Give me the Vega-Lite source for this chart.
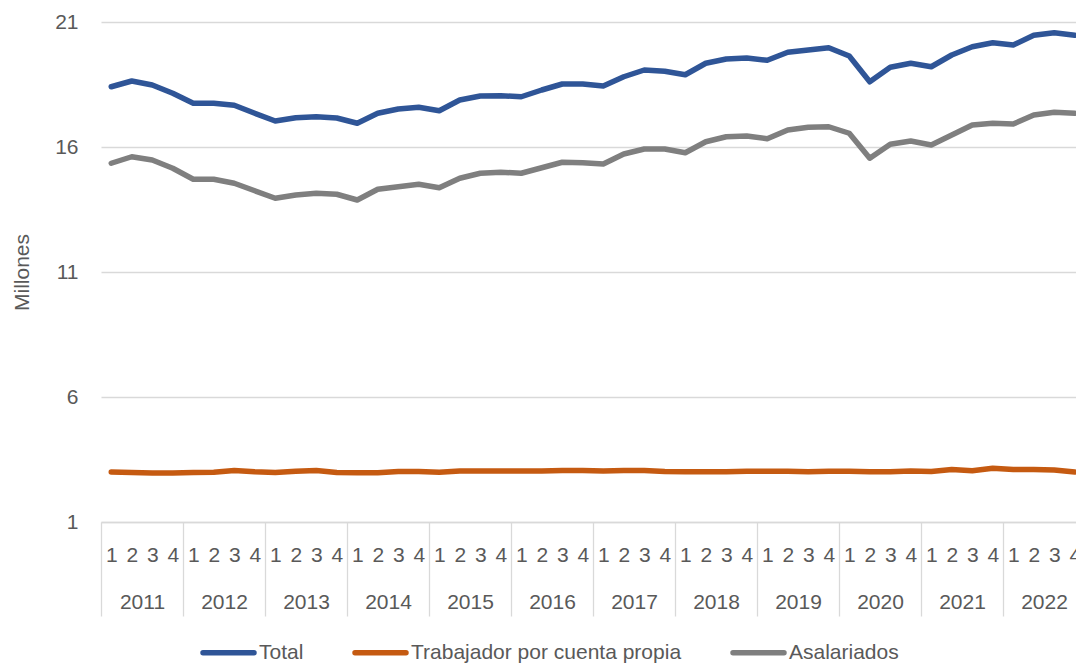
{
  "$schema": "https://vega.github.io/schema/vega-lite/v6.json",
  "autosize": "none",
  "width": 975,
  "height": 500,
  "padding": {"left": 101, "top": 22, "right": 0, "bottom": 143},
  "config": {
    "view": {"stroke": null},
    "font": "Liberation Sans"
  },
  "data": {"values": [
    {"s":"Total","y":2011,"q":1,"v":18.41},{"s":"Total","y":2011,"q":2,"v":18.64},{"s":"Total","y":2011,"q":3,"v":18.48},{"s":"Total","y":2011,"q":4,"v":18.15},
    {"s":"Total","y":2012,"q":1,"v":17.75},{"s":"Total","y":2012,"q":2,"v":17.75},{"s":"Total","y":2012,"q":3,"v":17.67},{"s":"Total","y":2012,"q":4,"v":17.35},
    {"s":"Total","y":2013,"q":1,"v":17.04},{"s":"Total","y":2013,"q":2,"v":17.17},{"s":"Total","y":2013,"q":3,"v":17.21},{"s":"Total","y":2013,"q":4,"v":17.16},
    {"s":"Total","y":2014,"q":1,"v":16.95},{"s":"Total","y":2014,"q":2,"v":17.35},{"s":"Total","y":2014,"q":3,"v":17.52},{"s":"Total","y":2014,"q":4,"v":17.59},
    {"s":"Total","y":2015,"q":1,"v":17.45},{"s":"Total","y":2015,"q":2,"v":17.88},{"s":"Total","y":2015,"q":3,"v":18.04},{"s":"Total","y":2015,"q":4,"v":18.05},
    {"s":"Total","y":2016,"q":1,"v":18.01},{"s":"Total","y":2016,"q":2,"v":18.28},{"s":"Total","y":2016,"q":3,"v":18.52},{"s":"Total","y":2016,"q":4,"v":18.52},
    {"s":"Total","y":2017,"q":1,"v":18.44},{"s":"Total","y":2017,"q":2,"v":18.81},{"s":"Total","y":2017,"q":3,"v":19.08},{"s":"Total","y":2017,"q":4,"v":19.03},
    {"s":"Total","y":2018,"q":1,"v":18.89},{"s":"Total","y":2018,"q":2,"v":19.35},{"s":"Total","y":2018,"q":3,"v":19.52},{"s":"Total","y":2018,"q":4,"v":19.56},
    {"s":"Total","y":2019,"q":1,"v":19.47},{"s":"Total","y":2019,"q":2,"v":19.79},{"s":"Total","y":2019,"q":3,"v":19.88},{"s":"Total","y":2019,"q":4,"v":19.97},
    {"s":"Total","y":2020,"q":1,"v":19.64},{"s":"Total","y":2020,"q":2,"v":18.61},{"s":"Total","y":2020,"q":3,"v":19.19},{"s":"Total","y":2020,"q":4,"v":19.35},
    {"s":"Total","y":2021,"q":1,"v":19.21},{"s":"Total","y":2021,"q":2,"v":19.68},{"s":"Total","y":2021,"q":3,"v":20.01},{"s":"Total","y":2021,"q":4,"v":20.17},
    {"s":"Total","y":2022,"q":1,"v":20.08},{"s":"Total","y":2022,"q":2,"v":20.47},{"s":"Total","y":2022,"q":3,"v":20.57},{"s":"Total","y":2022,"q":4,"v":20.47},
    {"s":"Trabajador por cuenta propia","y":2011,"q":1,"v":3.00},{"s":"Trabajador por cuenta propia","y":2011,"q":2,"v":2.98},{"s":"Trabajador por cuenta propia","y":2011,"q":3,"v":2.96},{"s":"Trabajador por cuenta propia","y":2011,"q":4,"v":2.96},
    {"s":"Trabajador por cuenta propia","y":2012,"q":1,"v":2.98},{"s":"Trabajador por cuenta propia","y":2012,"q":2,"v":2.99},{"s":"Trabajador por cuenta propia","y":2012,"q":3,"v":3.06},{"s":"Trabajador por cuenta propia","y":2012,"q":4,"v":3.01},
    {"s":"Trabajador por cuenta propia","y":2013,"q":1,"v":2.98},{"s":"Trabajador por cuenta propia","y":2013,"q":2,"v":3.03},{"s":"Trabajador por cuenta propia","y":2013,"q":3,"v":3.06},{"s":"Trabajador por cuenta propia","y":2013,"q":4,"v":2.98},
    {"s":"Trabajador por cuenta propia","y":2014,"q":1,"v":2.97},{"s":"Trabajador por cuenta propia","y":2014,"q":2,"v":2.97},{"s":"Trabajador por cuenta propia","y":2014,"q":3,"v":3.02},{"s":"Trabajador por cuenta propia","y":2014,"q":4,"v":3.02},
    {"s":"Trabajador por cuenta propia","y":2015,"q":1,"v":2.99},{"s":"Trabajador por cuenta propia","y":2015,"q":2,"v":3.04},{"s":"Trabajador por cuenta propia","y":2015,"q":3,"v":3.04},{"s":"Trabajador por cuenta propia","y":2015,"q":4,"v":3.04},
    {"s":"Trabajador por cuenta propia","y":2016,"q":1,"v":3.04},{"s":"Trabajador por cuenta propia","y":2016,"q":2,"v":3.04},{"s":"Trabajador por cuenta propia","y":2016,"q":3,"v":3.06},{"s":"Trabajador por cuenta propia","y":2016,"q":4,"v":3.06},
    {"s":"Trabajador por cuenta propia","y":2017,"q":1,"v":3.04},{"s":"Trabajador por cuenta propia","y":2017,"q":2,"v":3.06},{"s":"Trabajador por cuenta propia","y":2017,"q":3,"v":3.06},{"s":"Trabajador por cuenta propia","y":2017,"q":4,"v":3.02},
    {"s":"Trabajador por cuenta propia","y":2018,"q":1,"v":3.01},{"s":"Trabajador por cuenta propia","y":2018,"q":2,"v":3.01},{"s":"Trabajador por cuenta propia","y":2018,"q":3,"v":3.01},{"s":"Trabajador por cuenta propia","y":2018,"q":4,"v":3.03},
    {"s":"Trabajador por cuenta propia","y":2019,"q":1,"v":3.03},{"s":"Trabajador por cuenta propia","y":2019,"q":2,"v":3.03},{"s":"Trabajador por cuenta propia","y":2019,"q":3,"v":3.01},{"s":"Trabajador por cuenta propia","y":2019,"q":4,"v":3.03},
    {"s":"Trabajador por cuenta propia","y":2020,"q":1,"v":3.03},{"s":"Trabajador por cuenta propia","y":2020,"q":2,"v":3.01},{"s":"Trabajador por cuenta propia","y":2020,"q":3,"v":3.01},{"s":"Trabajador por cuenta propia","y":2020,"q":4,"v":3.04},
    {"s":"Trabajador por cuenta propia","y":2021,"q":1,"v":3.02},{"s":"Trabajador por cuenta propia","y":2021,"q":2,"v":3.10},{"s":"Trabajador por cuenta propia","y":2021,"q":3,"v":3.05},{"s":"Trabajador por cuenta propia","y":2021,"q":4,"v":3.15},
    {"s":"Trabajador por cuenta propia","y":2022,"q":1,"v":3.10},{"s":"Trabajador por cuenta propia","y":2022,"q":2,"v":3.10},{"s":"Trabajador por cuenta propia","y":2022,"q":3,"v":3.08},{"s":"Trabajador por cuenta propia","y":2022,"q":4,"v":3.00},
    {"s":"Asalariados","y":2011,"q":1,"v":15.35},{"s":"Asalariados","y":2011,"q":2,"v":15.61},{"s":"Asalariados","y":2011,"q":3,"v":15.48},{"s":"Asalariados","y":2011,"q":4,"v":15.15},
    {"s":"Asalariados","y":2012,"q":1,"v":14.71},{"s":"Asalariados","y":2012,"q":2,"v":14.71},{"s":"Asalariados","y":2012,"q":3,"v":14.55},{"s":"Asalariados","y":2012,"q":4,"v":14.25},
    {"s":"Asalariados","y":2013,"q":1,"v":13.95},{"s":"Asalariados","y":2013,"q":2,"v":14.08},{"s":"Asalariados","y":2013,"q":3,"v":14.15},{"s":"Asalariados","y":2013,"q":4,"v":14.11},
    {"s":"Asalariados","y":2014,"q":1,"v":13.88},{"s":"Asalariados","y":2014,"q":2,"v":14.31},{"s":"Asalariados","y":2014,"q":3,"v":14.41},{"s":"Asalariados","y":2014,"q":4,"v":14.51},
    {"s":"Asalariados","y":2015,"q":1,"v":14.37},{"s":"Asalariados","y":2015,"q":2,"v":14.75},{"s":"Asalariados","y":2015,"q":3,"v":14.95},{"s":"Asalariados","y":2015,"q":4,"v":14.99},
    {"s":"Asalariados","y":2016,"q":1,"v":14.95},{"s":"Asalariados","y":2016,"q":2,"v":15.17},{"s":"Asalariados","y":2016,"q":3,"v":15.39},{"s":"Asalariados","y":2016,"q":4,"v":15.37},
    {"s":"Asalariados","y":2017,"q":1,"v":15.32},{"s":"Asalariados","y":2017,"q":2,"v":15.72},{"s":"Asalariados","y":2017,"q":3,"v":15.92},{"s":"Asalariados","y":2017,"q":4,"v":15.92},
    {"s":"Asalariados","y":2018,"q":1,"v":15.77},{"s":"Asalariados","y":2018,"q":2,"v":16.21},{"s":"Asalariados","y":2018,"q":3,"v":16.41},{"s":"Asalariados","y":2018,"q":4,"v":16.44},
    {"s":"Asalariados","y":2019,"q":1,"v":16.33},{"s":"Asalariados","y":2019,"q":2,"v":16.68},{"s":"Asalariados","y":2019,"q":3,"v":16.79},{"s":"Asalariados","y":2019,"q":4,"v":16.81},
    {"s":"Asalariados","y":2020,"q":1,"v":16.55},{"s":"Asalariados","y":2020,"q":2,"v":15.55},{"s":"Asalariados","y":2020,"q":3,"v":16.11},{"s":"Asalariados","y":2020,"q":4,"v":16.24},
    {"s":"Asalariados","y":2021,"q":1,"v":16.08},{"s":"Asalariados","y":2021,"q":2,"v":16.48},{"s":"Asalariados","y":2021,"q":3,"v":16.88},{"s":"Asalariados","y":2021,"q":4,"v":16.95},
    {"s":"Asalariados","y":2022,"q":1,"v":16.92},{"s":"Asalariados","y":2022,"q":2,"v":17.28},{"s":"Asalariados","y":2022,"q":3,"v":17.39},{"s":"Asalariados","y":2022,"q":4,"v":17.35}
  ]},
  "transform": [{"calculate": "datum.y + '-' + datum.q", "as": "t"}],
  "encoding": {
    "y": {
      "field": "v", "type": "quantitative",
      "scale": {"domain": [1, 21], "nice": false, "zero": false},
      "axis": {"values": [1, 6, 11, 16, 21], "title": "Millones", "domain": false, "ticks": false, "labelPadding": 23, "titlePadding": 22, "gridColor": "#d9d9d9", "gridWidth": 1.3,
        "labelFont": "Liberation Sans", "labelFontSize": 21, "labelColor": "#595959", "titleFont": "Liberation Sans", "titleFontSize": 21, "titleColor": "#595959", "titleFontWeight": "normal"}
    }
  },
  "layer": [
    {
      "mark": {"type": "line", "strokeWidth": 5.5, "strokeCap": "round", "strokeJoin": "round"},
      "encoding": {
        "x": {
          "field": "t", "type": "ordinal",
          "scale": {"type": "point", "padding": 0.5, "range": [0, 984]},
          "axis": {"orient": "bottom", "title": null, "labelExpr": "split(datum.label, '-')[1]", "labelAngle": 0, "ticks": false, "grid": false, "domain": true, "domainColor": "#d9d9d9", "domainWidth": 1.3, "labelBaseline": "middle", "labelPadding": 33,
            "labelFont": "Liberation Sans", "labelFontSize": 21, "labelColor": "#595959"}
        },
        "color": {
          "field": "s", "type": "nominal",
          "scale": {"domain": ["Total", "Trabajador por cuenta propia", "Asalariados"], "range": ["#2F5597", "#C55A11", "#7F7F7F"]},
          "legend": {
            "title": null, "orient": "none", "direction": "horizontal", "legendX": 99, "legendY": 602,
            "symbolType": "stroke", "symbolSize": 2600, "symbolStrokeWidth": 5.5, "labelOffset": 2, "columnPadding": 40,
            "labelFont": "Liberation Sans", "labelFontSize": 21, "labelColor": "#595959", "labelLimit": 0,
            "encode": {"symbols": {"update": {"strokeCap": {"value": "round"}}}}
          }
        }
      }
    },
    {
      "mark": {"type": "point", "opacity": 0},
      "encoding": {
        "x": {
          "field": "y", "type": "ordinal",
          "scale": {"type": "band", "paddingInner": 0, "paddingOuter": 0, "range": [0, 984]},
          "axis": {"orient": "bottom", "title": null, "labelAngle": 0, "grid": false, "domain": false, "ticks": true, "tickBand": "extent", "tickSize": 94, "tickColor": "#d9d9d9", "tickWidth": 1.3, "labelBaseline": "middle", "labelPadding": -14,
            "labelFont": "Liberation Sans", "labelFontSize": 21, "labelColor": "#595959"}
        }
      }
    }
  ],
  "resolve": {"scale": {"x": "independent"}}
}
